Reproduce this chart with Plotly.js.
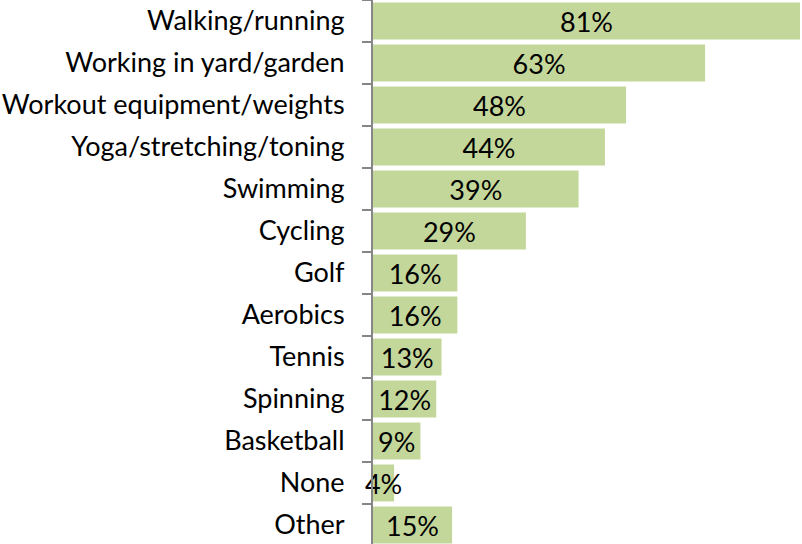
<!DOCTYPE html>
<html>
<head>
<meta charset="utf-8">
<script src="https://cdn.plot.ly/plotly-3.0.1.min.js"></script>
<style>html,body{margin:0;padding:0;overflow:hidden;background:#fff;}</style>
</head>
<body>
<div id="chart" style="width:802px;height:546px;"></div>
<script>
var categories = ["Walking/running","Working in yard/garden","Workout equipment/weights","Yoga/stretching/toning","Swimming","Cycling","Golf","Aerobics","Tennis","Spinning","Basketball","None","Other"];
var values = [81,63,48,44,39,29,16,16,13,12,9,4,15];
var labels = values.map(function(v){return v + "%";});

var trace = {
  type: "bar",
  orientation: "h",
  y: categories,
  x: values,
  text: labels,
  textposition: "inside",
  insidetextanchor: "middle",
  textangle: 0,
  constraintext: "none",
  cliponaxis: false,
  textfont: {family: "Lato, 'Open Sans', sans-serif", size: 27, color: "#000"},
  marker: {color: "#c4d79b", line: {width: 0}},
  hoverinfo: "none"
};

var layout = {
  width: 802, height: 546,
  margin: {l: 373, r: 2, t: 0, b: 0, pad: 0},
  paper_bgcolor: "#fff", plot_bgcolor: "#fff",
  bargap: 0.12,
  showlegend: false,
  font: {family: "Lato, 'Open Sans', sans-serif", size: 27, color: "#000"},
  xaxis: {range: [0, 81], showgrid: false, zeroline: false, showline: false, showticklabels: false, ticks: ""},
  yaxis: {
    autorange: "reversed", type: "category",
    showline: true, linecolor: "#868686", linewidth: 2,
    ticks: "outside", ticklen: 9, tickwidth: 2, tickcolor: "#868686",
    tickson: "boundaries",
    ticklabelstandoff: 21,
    showgrid: false, zeroline: false,
    tickfont: {family: "Lato, 'Open Sans', sans-serif", size: 27, color: "#000"}
  }
};

Plotly.newPlot("chart", [trace], layout, {displayModeBar: false, staticPlot: true});
</script>
</body>
</html>
